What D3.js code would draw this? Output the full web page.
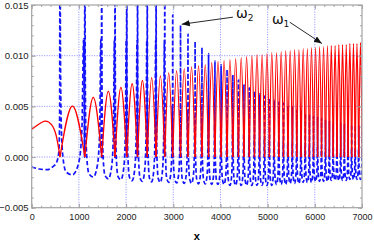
<!DOCTYPE html>
<html>
<head>
<meta charset="utf-8">
<script src="https://cdn.jsdelivr.net/npm/d3@7"></script>
<style>
  body { margin: 0; background: #fff; }
  svg { display: block; }
  .tick text { font-family: "Liberation Sans", Arial, sans-serif; font-size: 9px; fill: #222; }
  .yax .tick text { font-size: 9.6px; }
</style>
</head>
<body>
<svg id="chart"></svg>
<script>
// red zeros (where ω1 touches 0 and ω2 blows up)
const zeros = [600, 1127, 1483, 1766, 2015, 2243, 2449, 2636, 2820, 2988,
  3154, 3312, 3463, 3608, 3748, 3883, 4014, 4140, 4263, 4382,
  4498, 4611, 4721, 4829, 4935, 5038, 5139, 5238, 5336, 5431,
  5525, 5618, 5709, 5798, 5886, 5973, 6059, 6143, 6227, 6309,
  6390, 6470, 6549, 6627, 6705, 6781, 6856, 6931, 7005];

// ω1 lobe tops between consecutive zeros
const redPeaks = [0.00503, 0.00588, 0.00647, 0.00686, 0.00723, 0.00755, 0.00782, 0.0080, 0.0083, 0.0085,
  0.0087, 0.0089, 0.0090, 0.0091, 0.0093, 0.0094, 0.0095, 0.0096, 0.0097, 0.0098,
  0.0099, 0.0100, 0.0101, 0.0101, 0.0102, 0.0103, 0.0103, 0.0104, 0.0105, 0.0105,
  0.0106, 0.0106, 0.0107, 0.0107, 0.0108, 0.0108, 0.0109, 0.0109, 0.0110, 0.0110,
  0.0110, 0.0111, 0.0111, 0.0111, 0.0112, 0.0112, 0.0112, 0.0113];

// first ω1 arc, before the first zero
const redStart = [[0, 0.00275], [140, 0.0032], [285, 0.00355], [420, 0.0032], [520, 0.0021], [600, 0]];

// ω2 spike heights at each zero (0.03 = off the top)
const blueSpikes = [0.03, 0.03, 0.03, 0.03, 0.03, 0.03, 0.03, 0.03, 0.03,
  0.0140, 0.0130, 0.0121, 0.0114, 0.0108, 0.0102, 0.0095, 0.0091, 0.0086, 0.0081,
  0.0076, 0.0071, 0.0068, 0.0065, 0.0062, 0.0060, 0.0058, 0.0056, 0.0054, 0.0053,
  0.0051, 0.0049, 0.0046, 0.0045, 0.0043, 0.0042, 0.0040, 0.0039, 0.0038, 0.0036,
  0.0035, 0.0034, 0.0033, 0.0033, 0.0032, 0.0032, 0.0032, 0.0031, 0.0031, 0.0031];

// ω2 troughs between consecutive zeros
const blueTroughs = [-0.00175, -0.00197, -0.00215, -0.00224, -0.00234, -0.0024, -0.00245, -0.0025, -0.0025, -0.00255,
  -0.0026, -0.0026, -0.00265, -0.00265, -0.0027, -0.0027, -0.0027, -0.0028, -0.0028, -0.0028,
  -0.0028, -0.0028, -0.0028, -0.0028, -0.0028, -0.0028, -0.0027, -0.0027, -0.0027, -0.0026,
  -0.0026, -0.0026, -0.0025, -0.0025, -0.0025, -0.0024, -0.0024, -0.0024, -0.0024, -0.0023,
  -0.0023, -0.0023, -0.0023, -0.0023, -0.0022, -0.0022, -0.0022, -0.0022];

// ω2 before the first zero
const blueStart = [[0, -0.00098], [160, -0.00118], [318, -0.00125], [450, -0.00095], [530, -0.0005], [575, 0.0005], [592, 0.004]];

// shape of one ω2 segment between zeros (fraction of span, spike/trough weights)
const profFrac   = [0, 0.015, 0.05, 0.12, 0.25, 0.5, 0.75, 0.88, 0.95, 0.985];
const profLeft   = [1, 0.4, 0.12, 0.03, 0, 0, 0, 0, 0, 0];
const profRight  = [0, 0, 0, 0, 0, 0, 0.03, 0.12, 0.4, 0];
const profTrough = [0, 0.02, 0.2, 0.55, 0.85, 1, 0.85, 0.55, 0.2, 0.02];

const xTicks = [0, 1000, 2000, 3000, 4000, 5000, 6000, 7000];
const yTicks = [-0.005, 0, 0.005, 0.010, 0.015];
const yTickLabels = ["\u22120.005", "0.000", "0.005", "0.010", "0.015"];

const W = 374, H = 245;
const margin = { top: 5, right: 12, bottom: 37.3, left: 31.7 };

const svg = d3.select('#chart').attr('width', W).attr('height', H);

const x = d3.scaleLinear().domain([0, 7000]).range([margin.left, W - margin.right]);
const y = d3.scaleLinear().domain([-0.005, 0.015]).range([H - margin.bottom, margin.top]);

svg.append('clipPath').attr('id', 'plotclip')
  .append('rect')
  .attr('x', x(0)).attr('y', y(0.015))
  .attr('width', x(7000) - x(0)).attr('height', y(-0.005) - y(0.015));

// grid
const grid = svg.append('g').attr('stroke', '#6b6bff').attr('stroke-width', 0.8).attr('stroke-dasharray', '1,1.5');
grid.selectAll('.gx').data(xTicks.slice(1, -1)).join('line')
  .attr('x1', d => x(d)).attr('x2', d => x(d))
  .attr('y1', y(-0.005)).attr('y2', y(0.015));
grid.selectAll('.gy').data([0, 0.005, 0.010]).join('line')
  .attr('x1', x(0)).attr('x2', x(7000))
  .attr('y1', d => y(d)).attr('y2', d => y(d));

const plot = svg.append('g').attr('clip-path', 'url(#plotclip)');

// ω2: one continuous dashed line
const bluePts = blueStart.slice();
for (let k = 0; k < blueTroughs.length; k++) {
  const a = zeros[k], b = zeros[k + 1];
  profFrac.forEach((f, i) => {
    bluePts.push([a + f * (b - a),
      blueSpikes[k] * profLeft[i] + blueSpikes[k + 1] * profRight[i] + blueTroughs[k] * profTrough[i]]);
  });
}
bluePts.push([zeros[zeros.length - 1], blueSpikes[blueSpikes.length - 1]]);

plot.append('path')
  .datum(bluePts)
  .attr('fill', 'none')
  .attr('stroke', '#1414ff')
  .attr('stroke-width', 1.7)
  .attr('stroke-dasharray', '4.5,2.5')
  .attr('d', d3.line().x(d => x(d[0])).y(d => y(d[1])).curve(d3.curveMonotoneX));

// ω1: one natural arc per lobe
const redLine = d3.line().x(d => x(d[0])).y(d => y(d[1])).curve(d3.curveNatural);
const redArcs = [redStart];
for (let k = 0; k < redPeaks.length; k++) {
  const a = zeros[k], b = zeros[k + 1];
  redArcs.push([[a, 0], [(a + b) / 2, redPeaks[k]], [b, 0]]);
}
plot.selectAll('.red').data(redArcs).join('path')
  .attr('class', 'red')
  .attr('fill', 'none')
  .attr('stroke', '#f00')
  .attr('stroke-width', 1.3)
  .attr('d', redLine);

// frame with inward ticks (Mathematica style)
const frameColor = '#a3a3a3';
const minorX = d3.range(0, 7001, 200);
const minorY = d3.range(-0.005, 0.0151, 0.001);

function styleAxis(g) {
  g.select('.domain').remove();
  g.selectAll('.tick line').attr('stroke', frameColor);
}

svg.append('g').attr('transform', `translate(0,${y(-0.005)})`)
  .call(d3.axisBottom(x).tickValues(minorX).tickSize(-2).tickFormat('')).call(styleAxis);
svg.append('g').attr('transform', `translate(0,${y(-0.005)})`)
  .call(d3.axisBottom(x).tickValues(xTicks).tickSize(-4).tickPadding(6).tickFormat(d3.format('d'))).call(styleAxis);
svg.append('g').attr('transform', `translate(0,${y(0.015)})`)
  .call(d3.axisTop(x).tickValues(minorX).tickSize(-2).tickFormat('')).call(styleAxis);
svg.append('g').attr('transform', `translate(0,${y(0.015)})`)
  .call(d3.axisTop(x).tickValues(xTicks).tickSize(-4).tickFormat('')).call(styleAxis);

svg.append('g').attr('transform', `translate(${x(0)},0)`)
  .call(d3.axisLeft(y).tickValues(minorY).tickSize(-2).tickFormat('')).call(styleAxis);
svg.append('g').attr('class', 'yax').attr('transform', `translate(${x(0)},0)`)
  .call(d3.axisLeft(y).tickValues(yTicks).tickSize(-4).tickPadding(3)
    .tickFormat((d, i) => yTickLabels[i])).call(styleAxis);
svg.append('g').attr('transform', `translate(${x(7000)},0)`)
  .call(d3.axisRight(y).tickValues(minorY).tickSize(-2).tickFormat('')).call(styleAxis);
svg.append('g').attr('transform', `translate(${x(7000)},0)`)
  .call(d3.axisRight(y).tickValues(yTicks).tickSize(-4).tickFormat('')).call(styleAxis);

svg.append('rect')
  .attr('x', x(0)).attr('y', y(0.015))
  .attr('width', x(7000) - x(0)).attr('height', y(-0.005) - y(0.015))
  .attr('fill', 'none').attr('stroke', frameColor).attr('stroke-width', 1.2);

// axis title
svg.append('text')
  .attr('x', (x(0) + x(7000)) / 2).attr('y', 240)
  .attr('text-anchor', 'middle')
  .attr('font-family', '"Liberation Sans", Arial, sans-serif')
  .attr('font-size', 11).attr('font-weight', 'bold')
  .text('x');

// annotations
svg.append('defs').append('marker')
  .attr('id', 'arrowhead')
  .attr('viewBox', '0 0 10 10').attr('refX', 10).attr('refY', 5)
  .attr('markerWidth', 8).attr('markerHeight', 8)
  .attr('markerUnits', 'userSpaceOnUse')
  .attr('orient', 'auto')
  .append('path').attr('d', 'M0,1L10,5L0,9Z').attr('fill', '#111');

const notes = [
  { name: '2', tx: 4330, ty: 0.0137, from: [4265, 0.0138], to: [3180, 0.0131] },
  { name: '1', tx: 5090, ty: 0.0131, from: [5470, 0.0133], to: [6150, 0.0112] }
];
notes.forEach(n => {
  svg.append('line')
    .attr('x1', x(n.from[0])).attr('y1', y(n.from[1]))
    .attr('x2', x(n.to[0])).attr('y2', y(n.to[1]))
    .attr('stroke', '#111').attr('stroke-width', 0.9)
    .attr('marker-end', 'url(#arrowhead)');
  const t = svg.append('text')
    .attr('x', x(n.tx)).attr('y', y(n.ty))
    .attr('font-family', '"DejaVu Sans", sans-serif')
    .attr('font-size', 14).attr('fill', '#111');
  t.append('tspan').text('\u03c9');
  t.append('tspan').attr('font-size', 9).attr('dy', 3).text(n.name);
});
</script>
</body>
</html>
